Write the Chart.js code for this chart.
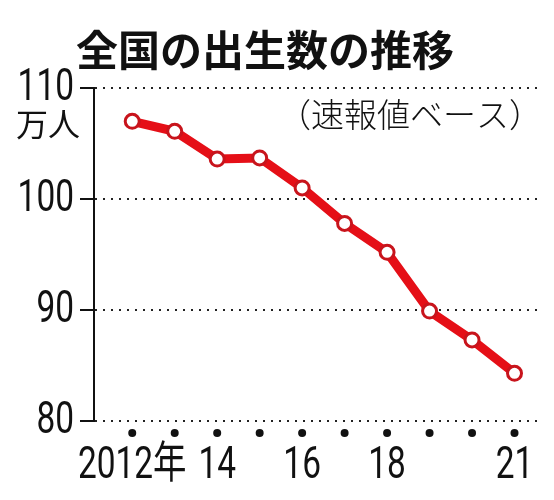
<!DOCTYPE html>
<html lang="ja">
<head>
<meta charset="utf-8">
<title>全国の出生数の推移</title>
<script src="https://cdn.jsdelivr.net/npm/chart.js@4/dist/chart.umd.min.js"></script>
<style>
  html, body { margin: 0; padding: 0; background: #fff; }
  #wrap { width: 554px; height: 500px; }
</style>
</head>
<body>
<div id="wrap"><canvas id="birthChart" width="554" height="500"></canvas></div>
<script>
const titleText = "全国の出生数の推移";
const unitText = "万人";
const noteText = "（速報値ベース）";

const years = [2012, 2013, 2014, 2015, 2016, 2017, 2018, 2019, 2020, 2021];
const yearLabels = ["2012年", "", "14", "", "16", "", "18", "", "", "21"];
// 出生数（万人）
const births = [107.0, 106.1, 103.6, 103.7, 101.0, 97.8, 95.2, 89.9, 87.3, 84.3];
const yTicks = [80, 90, 100, 110];

const numFont = "Roboto, 'Noto Sans CJK JP', sans-serif";
const jpFont = "'Noto Sans CJK JP', 'Noto Sans', sans-serif";
const narrow = 0.76; // 目盛り数字は縦長の書体なので横に詰める

// 横に詰めた文字を書く
function narrowText(ctx, text, x, y, align) {
  ctx.save();
  ctx.translate(x, y);
  ctx.scale(narrow, 1);
  ctx.textAlign = align;
  ctx.fillText(text, 0, 0);
  ctx.restore();
}

const extras = {
  id: "extras",
  afterDraw(chart) {
    const { ctx, chartArea, scales: { x, y } } = chart;
    ctx.save();
    ctx.fillStyle = "#111";
    ctx.textBaseline = "middle";

    ctx.font = "bold 42px " + jpFont;
    ctx.textAlign = "center";
    ctx.fillText(titleText, 265, 50);

    ctx.font = "32px " + jpFont;
    ctx.textAlign = "right";
    ctx.fillText(unitText, 80, y.getPixelForValue(110) + 36);

    ctx.font = "300 33px " + jpFont;
    ctx.fillText(noteText, chartArea.right + 2, y.getPixelForValue(107.6));

    // y軸の目盛り数字
    ctx.font = "44px " + numFont;
    y.ticks.forEach((t) => {
      narrowText(ctx, String(t.value), chartArea.left - 20, y.getPixelForValue(t.value) + 1, "right");
    });

    // 年ごとの目印の点と年ラベル
    x.ticks.forEach((t) => {
      const px = x.getPixelForValue(t.value);
      ctx.beginPath();
      ctx.arc(px, chartArea.bottom + 12, 4, 0, Math.PI * 2);
      ctx.fill();
      const label = yearLabels[years.indexOf(t.value)];
      if (label) narrowText(ctx, label, px, chartArea.bottom + 46, "center");
    });
    ctx.restore();
  },
};

new Chart(document.getElementById("birthChart"), {
  type: "line",
  data: {
    datasets: [
      {
        label: "出生数",
        data: years.map((yr, i) => ({ x: yr, y: births[i] })),
        borderColor: "#e50f17",
        borderWidth: 9,
        pointRadius: 7,
        pointBorderWidth: 3,
        pointBorderColor: "#c8141c",
        pointBackgroundColor: "#fff",
        tension: 0,
      },
    ],
  },
  options: {
    responsive: false,
    animation: false,
    layout: { padding: { top: 88, right: 14, bottom: 0, left: 0 } },
    plugins: {
      legend: { display: false },
      tooltip: { enabled: false },
    },
    scales: {
      x: {
        type: "linear",
        min: 2011.1,
        max: 2021.6,
        afterBuildTicks: (scale) => {
          scale.ticks = years.map((v) => ({ value: v }));
        },
        afterFit: (scale) => {
          scale.height = 79;
        },
        grid: { display: false, drawTicks: false },
        border: { display: false },
        ticks: { display: false },
      },
      y: {
        min: 80,
        max: 110,
        afterBuildTicks: (scale) => {
          scale.ticks = yTicks.map((v) => ({ value: v }));
        },
        afterFit: (scale) => {
          scale.width = 94;
        },
        grid: {
          color: "#222",
          lineWidth: 2,
          tickLength: 14,
          tickColor: "#111",
          tickWidth: 2,
          tickBorderDash: [],
        },
        border: { display: true, color: "#111", width: 2, dash: [2, 6] },
        ticks: { display: false },
      },
    },
  },
  plugins: [extras],
});
</script>
</body>
</html>
